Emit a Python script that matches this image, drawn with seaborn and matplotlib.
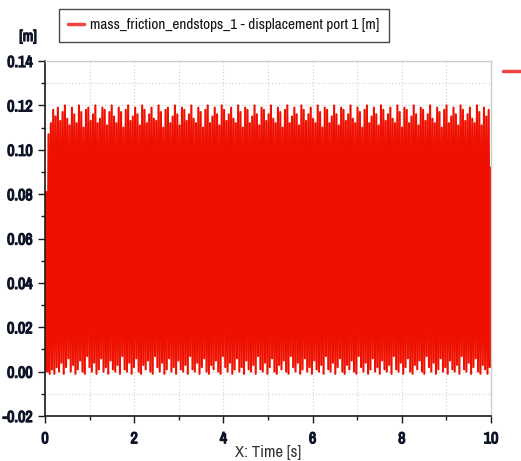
import numpy as np
import pandas as pd
import seaborn as sns
import matplotlib
matplotlib.use("Agg")
import matplotlib.pyplot as plt
import matplotlib.patheffects as pe
from matplotlib.lines import Line2D
from matplotlib.ticker import MultipleLocator, FormatStrFormatter
from matplotlib import font_manager as fm

# Displacement of the mass: successive maxima and minima of the oscillation [m]
peaks = [
    0.081, 0.107, 0.112, 0.118, 0.115, 0.119, 0.113, 0.117, 0.120, 0.114,
    0.111, 0.119, 0.116, 0.112, 0.120, 0.117, 0.110, 0.118, 0.119, 0.113,
    0.116, 0.120, 0.112, 0.114, 0.119, 0.118, 0.111, 0.117, 0.120, 0.115,
    0.112, 0.119, 0.117, 0.110, 0.118, 0.120, 0.113, 0.115, 0.119, 0.116,
    0.111, 0.120, 0.118, 0.112, 0.116, 0.119, 0.114, 0.113, 0.120, 0.117,
    0.110, 0.118, 0.119, 0.112, 0.115, 0.120, 0.116, 0.111, 0.119, 0.118,
    0.113, 0.116, 0.120, 0.114, 0.112, 0.119, 0.117, 0.110, 0.118, 0.120,
    0.112, 0.115, 0.119, 0.116, 0.111, 0.120, 0.118, 0.113, 0.116, 0.119,
    0.114, 0.112, 0.120, 0.117, 0.110, 0.119, 0.118, 0.112, 0.115, 0.120,
    0.116, 0.111, 0.119, 0.118, 0.113, 0.116, 0.120, 0.114, 0.112, 0.119,
    0.117, 0.110, 0.118, 0.120, 0.112, 0.115, 0.119, 0.116, 0.111, 0.120,
    0.118, 0.113, 0.116, 0.119, 0.114, 0.112, 0.120, 0.117, 0.110, 0.119,
    0.118, 0.112, 0.115, 0.120, 0.116, 0.111, 0.119, 0.118, 0.113, 0.116,
    0.120, 0.114, 0.112, 0.119, 0.117, 0.110, 0.118, 0.120, 0.112, 0.115,
    0.119, 0.116, 0.111, 0.120, 0.118, 0.113, 0.116, 0.119, 0.114, 0.112,
    0.120, 0.117, 0.110, 0.119, 0.118, 0.112, 0.115, 0.120, 0.116, 0.111,
    0.119, 0.118, 0.113, 0.116, 0.120, 0.114, 0.112, 0.119, 0.117, 0.110,
    0.118, 0.120, 0.112, 0.115, 0.119, 0.116, 0.111, 0.120, 0.118, 0.113,
    0.116, 0.119, 0.114, 0.112, 0.120, 0.117, 0.111, 0.119, 0.115, 0.118,
]
troughs = [
    0.000, -0.001, 0.001, -0.001, 0.002, 0.000, 0.004, -0.001, 0.002, 0.006,
    0.000, 0.003, -0.001, 0.001, 0.005, 0.000, -0.001, 0.007, 0.002, 0.000,
    0.004, -0.001, 0.001, 0.006, 0.000, 0.002, -0.001, 0.005, 0.001, 0.000,
    0.003, -0.001, 0.007, 0.001, 0.000, 0.004, -0.001, 0.002, 0.006, 0.000,
    -0.001, 0.003, 0.001, 0.005, 0.000, -0.001, 0.007, 0.002, 0.000, 0.004,
    -0.001, 0.001, 0.006, 0.000, 0.002, -0.001, 0.005, 0.001, 0.000, 0.003,
    -0.001, 0.007, 0.001, 0.000, 0.004, -0.001, 0.002, 0.006, 0.000, -0.001,
    0.003, 0.001, 0.005, 0.000, -0.001, 0.007, 0.002, 0.000, 0.004, -0.001,
    0.001, 0.006, 0.000, 0.002, -0.001, 0.005, 0.001, 0.000, 0.003, -0.001,
    0.007, 0.001, 0.000, 0.004, -0.001, 0.002, 0.006, 0.000, -0.001, 0.003,
    0.001, 0.005, 0.000, -0.001, 0.007, 0.002, 0.000, 0.004, -0.001, 0.001,
    0.006, 0.000, 0.002, -0.001, 0.005, 0.001, 0.000, 0.003, -0.001, 0.007,
    0.001, 0.000, 0.004, -0.001, 0.002, 0.006, 0.000, -0.001, 0.003, 0.001,
    0.005, 0.000, -0.001, 0.007, 0.002, 0.000, 0.004, -0.001, 0.001, 0.006,
    0.000, 0.002, -0.001, 0.005, 0.001, 0.000, 0.003, -0.001, 0.007, 0.001,
    0.000, 0.004, -0.001, 0.002, 0.006, 0.000, -0.001, 0.003, 0.001, 0.005,
    0.000, -0.001, 0.007, 0.002, 0.000, 0.004, -0.001, 0.001, 0.006, 0.000,
    0.002, -0.001, 0.005, 0.001, 0.000, 0.003, -0.001, 0.007, 0.001, 0.000,
    0.004, -0.001, 0.002, 0.006, 0.000, -0.001, 0.003, 0.001, -0.001, 0.002,
]
start_value = 0.0
end_value = 0.092
t_start, t_end = 0.0, 10.0

x_ticks = [0, 2, 4, 6, 8, 10]
y_ticks = [-0.02, 0.00, 0.02, 0.04, 0.06, 0.08, 0.10, 0.12, 0.14]
series_label = "mass_friction_endstops_1 - displacement port 1 [m]"
y_unit = "[m]"
x_title = "X: Time [s]"

# Assemble the time series: start, alternating extrema, end value
values = [start_value]
for p, q in zip(peaks, troughs):
    values += [p, q]
values.append(end_value)
time = np.linspace(t_start, t_end, len(values))
df = pd.DataFrame({"time": time, "disp": values})

sns.set_theme(style="white")

# Prefer a condensed face for the narrow labels
family = "DejaVu Sans"
for f in fm.fontManager.ttflist:
    if "Narrow" in f.name or "Condensed" in f.name:
        family = f.name
        break
plt.rcParams["font.family"] = [family, "DejaVu Sans"]

RED = "#ee1000"
LEG_RED = "#f04444"
NAVY = "#0d1428"

# Thicker strokes for the heavy tick-label lettering
heavy = [pe.withStroke(linewidth=0.9, foreground=NAVY)]

fig = plt.figure(figsize=(5.21, 4.61), dpi=100)
ax = fig.add_axes([45 / 521, 1 - 416 / 461, (491 - 45) / 521, (416 - 61) / 461])

sns.lineplot(data=df, x="time", y="disp", ax=ax, color=RED, lw=1.5,
             estimator=None, sort=False, legend=False)

ax.set_xlim(0, 10)
ax.set_ylim(-0.02, 0.14)
ax.set_xticks(x_ticks)
ax.set_yticks(y_ticks)
ax.xaxis.set_minor_locator(MultipleLocator(1))
ax.yaxis.set_minor_locator(MultipleLocator(0.01))
ax.yaxis.set_major_formatter(FormatStrFormatter("%.2f"))
ax.set_xlabel("")
ax.set_ylabel("")

ax.grid(True, which="both", color="#cfcfcf", linestyle=(0, (1, 2)), linewidth=0.8)
ax.set_axisbelow(True)

for side in ("top", "right"):
    ax.spines[side].set_color("#cccccc")
    ax.spines[side].set_linewidth(1.0)
for side in ("left", "bottom"):
    ax.spines[side].set_color("#1a1a1a")
    ax.spines[side].set_linewidth(1.2)

ax.tick_params(which="major", direction="out", length=5, width=1.0, color="#1a1a1a",
               labelsize=11.5, labelcolor=NAVY, left=True, bottom=True, pad=4)
ax.tick_params(which="minor", direction="out", length=3, width=1.0, color="#1a1a1a",
               left=True, bottom=True)
for lab in ax.get_xticklabels() + ax.get_yticklabels():
    lab.set_fontweight("bold")
    lab.set_path_effects(heavy)
ax.tick_params(axis="x", pad=6)

fig.text(28 / 521, 1 - 37 / 461, y_unit, ha="center", va="center",
         fontsize=11, fontweight="bold", color=NAVY, path_effects=heavy)
fig.text(268 / 521, 1 - 452 / 461, x_title, ha="center", va="center",
         fontsize=12, color="#333333")

handle = Line2D([], [], color=LEG_RED, lw=2.5)
leg = fig.legend([handle], [series_label], loc="center",
                 bbox_to_anchor=(224 / 521, 1 - 25.5 / 461),
                 frameon=True, fancybox=False, fontsize=11,
                 handlelength=1.0, handletextpad=0.45, borderpad=0.6,
                 borderaxespad=0)
leg.get_frame().set_edgecolor("#1a1a1a")
leg.get_frame().set_linewidth(1.0)
leg.get_texts()[0].set_color("#111111")

# Marker of a second legend entry at the right edge
fig.add_artist(Line2D([503 / 521, 1.0], [1 - 71 / 461, 1 - 71 / 461],
                      transform=fig.transFigure, color=LEG_RED, lw=2.5))

fig.savefig("out.png", dpi=100)
